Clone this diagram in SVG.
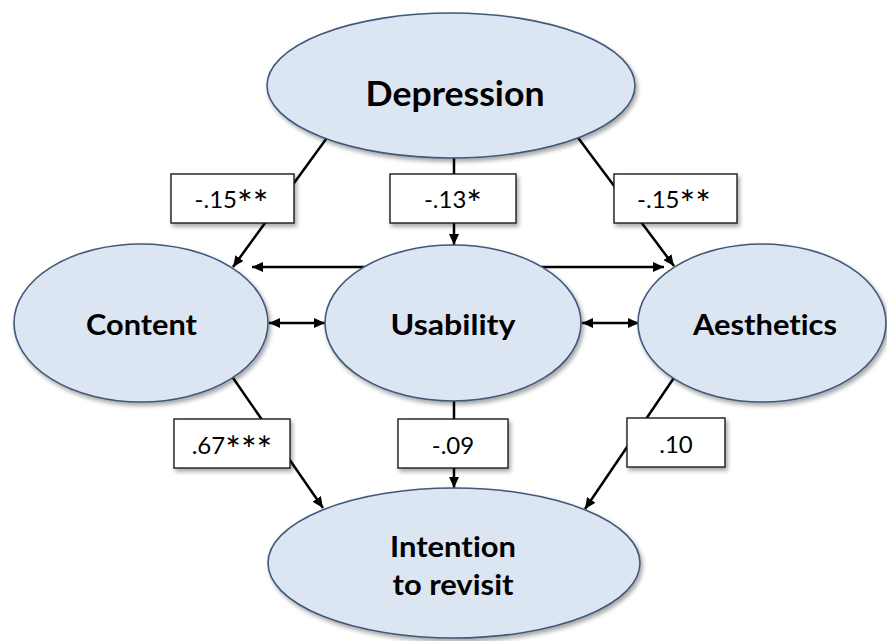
<svg xmlns="http://www.w3.org/2000/svg" width="887" height="641" viewBox="0 0 887 641">
  <defs>
    <style>
      .node { fill: #DCE6F2; stroke: #41587A; stroke-width: 1.6; }
      .lbl { fill: #FFFFFF; stroke: #1A1A1A; stroke-width: 1.4; }
      .edge { stroke: #000; stroke-width: 2.5; fill: none; }
      .ntxt { font-family: "Lato", "Liberation Sans", sans-serif; font-weight: bold; fill: #000; text-anchor: middle; font-variant-ligatures: none; }
      .etxt { font-family: "Lato", "Liberation Sans", sans-serif; font-size: 24px; fill: #000; text-anchor: middle; }
      .ast { font-size: 37px; }
    </style>
    <filter id="sh" x="-10%" y="-10%" width="130%" height="140%">
      <feDropShadow dx="2" dy="3" stdDeviation="2" flood-color="#000" flood-opacity="0.35"/>
    </filter>
    <marker id="ah" markerUnits="userSpaceOnUse" markerWidth="11" markerHeight="10" refX="11" refY="5" orient="auto-start-reverse">
      <path d="M0,0 L11,5 L0,10 z" fill="#000"/>
    </marker>
  </defs>

  <rect width="887" height="641" fill="#FFFFFF"/>

  <g id="connectors">
    <line class="edge" x1="329" y1="135" x2="233" y2="267" marker-end="url(#ah)"/>
    <line class="edge" x1="454" y1="150" x2="454" y2="245" marker-end="url(#ah)"/>
    <line class="edge" x1="576" y1="135" x2="674" y2="266" marker-end="url(#ah)"/>
    <line class="edge" x1="370" y1="267" x2="252" y2="267" marker-end="url(#ah)"/>
    <line class="edge" x1="536" y1="267" x2="664" y2="267" marker-end="url(#ah)"/>
    <line class="edge" x1="269" y1="323" x2="325" y2="323" marker-start="url(#ah)" marker-end="url(#ah)"/>
    <line class="edge" x1="582" y1="323" x2="639" y2="323" marker-start="url(#ah)" marker-end="url(#ah)"/>
    <line class="edge" x1="222" y1="362" x2="323" y2="508" marker-end="url(#ah)"/>
    <line class="edge" x1="454" y1="395" x2="454" y2="488" marker-end="url(#ah)"/>
    <line class="edge" x1="684" y1="363" x2="585" y2="509" marker-end="url(#ah)"/>
  </g>

  <g id="node-depression">
    <ellipse class="node" cx="451" cy="85.5" rx="184" ry="72.5" filter="url(#sh)"/>
    <text class="ntxt" x="455" y="106" font-size="35" textLength="179" lengthAdjust="spacingAndGlyphs">Depression</text>
  </g>
  <g id="node-content">
    <ellipse class="node" cx="141" cy="323" rx="127" ry="79" filter="url(#sh)"/>
    <text class="ntxt" x="141.5" y="335" font-size="29" textLength="111" lengthAdjust="spacingAndGlyphs">Content</text>
  </g>
  <g id="node-usability">
    <ellipse class="node" cx="453" cy="323" rx="128" ry="78" filter="url(#sh)"/>
    <text class="ntxt" x="453" y="335" font-size="29" textLength="125" lengthAdjust="spacingAndGlyphs">Usability</text>
  </g>
  <g id="node-aesthetics">
    <ellipse class="node" cx="762" cy="323" rx="124" ry="79" filter="url(#sh)"/>
    <text class="ntxt" x="765" y="335" font-size="29" textLength="144" lengthAdjust="spacingAndGlyphs">Aesthetics</text>
  </g>
  <g id="node-intention">
    <ellipse class="node" cx="454" cy="563" rx="186" ry="75" filter="url(#sh)"/>
    <text class="ntxt" x="453" y="557" font-size="29" textLength="126" lengthAdjust="spacingAndGlyphs">Intention</text>
    <text class="ntxt" x="453" y="595" font-size="29" textLength="121" lengthAdjust="spacingAndGlyphs">to revisit</text>
  </g>

  <g id="edge-labels">
    <g id="lbl-dep-content">
      <rect class="lbl" x="171" y="174" width="123" height="49" filter="url(#sh)"/>
      <text class="etxt" x="231.5" y="207.5">-.15<tspan class="ast" dy="9">**</tspan></text>
    </g>
    <g id="lbl-dep-usability">
      <rect class="lbl" x="390" y="174" width="126" height="49" filter="url(#sh)"/>
      <text class="etxt" x="453" y="207.5">-.13<tspan class="ast" dy="9">*</tspan></text>
    </g>
    <g id="lbl-dep-aesthetics">
      <rect class="lbl" x="614" y="174" width="123" height="49" filter="url(#sh)"/>
      <text class="etxt" x="674" y="207.5">-.15<tspan class="ast" dy="9">**</tspan></text>
    </g>
    <g id="lbl-content-intention">
      <rect class="lbl" x="174" y="419" width="116" height="49" filter="url(#sh)"/>
      <text class="etxt" x="232" y="454">.67<tspan class="ast" dy="9">***</tspan></text>
    </g>
    <g id="lbl-usability-intention">
      <rect class="lbl" x="398" y="419" width="110" height="49" filter="url(#sh)"/>
      <text class="etxt" x="453" y="454">-.09</text>
    </g>
    <g id="lbl-aesthetics-intention">
      <rect class="lbl" x="627" y="418" width="98" height="49" filter="url(#sh)"/>
      <text class="etxt" x="676" y="453">.10</text>
    </g>
  </g>
</svg>
